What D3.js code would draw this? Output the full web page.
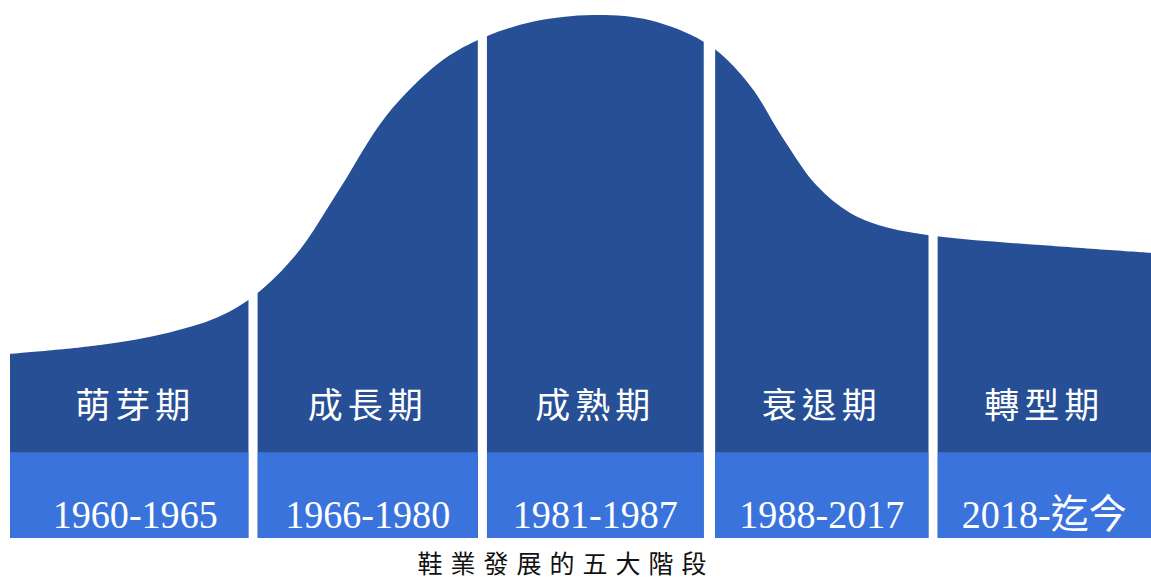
<!DOCTYPE html>
<html>
<head>
<meta charset="utf-8">
<script src="https://cdn.jsdelivr.net/npm/d3@7"></script>
<style>
  html, body { margin: 0; padding: 0; background: #fff; }
  svg { display: block; }
</style>
</head>
<body>
<svg id="chart" width="1151" height="581"></svg>
<script>
// ---- data ----
const stageNames = ["萌芽期", "成長期", "成熟期", "衰退期", "轉型期"];
const stageYears = ["1960-1965", "1966-1980", "1981-1987", "1988-2017", "2018-迄今"];
const stageStart = [0, 21.7, 41.8, 61.8, 81.3];
const stageEnd   = [20.9, 41.0, 60.8, 80.5, 100];
// life-cycle curve: position along timeline (0-100) and level (0-100)
const curveX = [0, 7.9, 13.8, 18.1, 21.2, 25.0, 28.9, 33.0, 37.7, 41.3, 45.8, 51.1, 56.1, 61.3, 64.9, 67.7, 70.7, 73.6, 76.5, 80.9, 90.3, 100];
const curveV = [35.2, 36.9, 39.2, 42.1, 46.0, 54.0, 66.8, 80.8, 91.0, 95.5, 98.7, 100, 99.0, 94.2, 86.4, 76.6, 67.4, 62.2, 59.6, 57.8, 56.0, 54.5];
const bandLevel = 16.4; // light year band height in level units
const caption = "鞋業發展的五大階段";

// ---- scales ----
const W = 1151, H = 581;
const x = d3.scaleLinear().domain([0, 100]).range([10, 1151]);
const y = d3.scaleLinear().domain([0, 100]).range([538, 15]);

const svg = d3.select("#chart");
const pts = curveX.map((d, i) => ({ x: d, v: curveV[i] }));

const area = d3.area()
  .x(d => x(d.x))
  .y0(y(0))
  .y1(d => y(d.v))
  .curve(d3.curveCatmullRom.alpha(0.5));

const defs = svg.append("defs");
stageNames.forEach((s, i) => {
  defs.append("clipPath").attr("id", "clip" + i)
    .append("rect")
    .attr("x", x(stageStart[i]))
    .attr("y", 0)
    .attr("width", x(stageEnd[i]) - x(stageStart[i]))
    .attr("height", H);
});

const dark = "#274f95";
const light = "#3a73dc";

const g = svg.append("g");
stageNames.forEach((s, i) => {
  const sg = g.append("g").attr("clip-path", `url(#clip${i})`);
  sg.append("path").datum(pts).attr("d", area).attr("fill", dark);
  sg.append("rect")
    .attr("x", x(stageStart[i]))
    .attr("y", y(bandLevel))
    .attr("width", x(stageEnd[i]) - x(stageStart[i]))
    .attr("height", y(0) - y(bandLevel))
    .attr("fill", light);

  const cx = (x(stageStart[i]) + x(stageEnd[i])) / 2 + (i === 0 ? 6 : 0);
  svg.append("text")
    .attr("x", cx)
    .attr("y", 418)
    .attr("text-anchor", "middle")
    .attr("fill", "#fff")
    .attr("font-family", "'Noto Sans CJK TC', 'Noto Sans CJK SC', sans-serif")
    .attr("font-size", 35)
    .attr("letter-spacing", 5)
    .text(s);

  svg.append("text")
    .attr("x", cx)
    .attr("y", 528)
    .attr("text-anchor", "middle")
    .attr("fill", "#fff")
    .attr("font-family", "'Liberation Serif', 'Noto Sans CJK TC', serif")
    .attr("font-size", 40)
    .attr("textLength", 165)
    .attr("lengthAdjust", "spacingAndGlyphs")
    .text(stageYears[i]);
});

svg.append("text")
  .attr("x", 566)
  .attr("y", 573)
  .attr("text-anchor", "middle")
  .attr("fill", "#111")
  .attr("font-family", "'Noto Sans CJK TC', sans-serif")
  .attr("font-size", 25)
  .attr("letter-spacing", 8)
  .text(caption);
</script>
</body>
</html>
